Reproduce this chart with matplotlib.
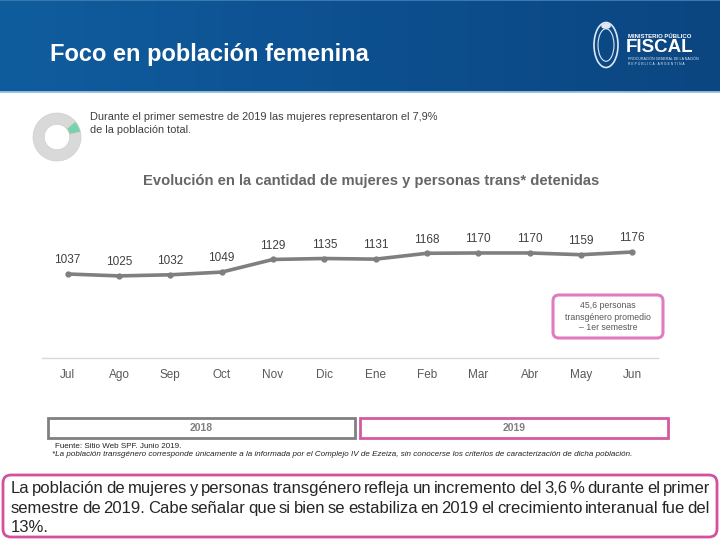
import numpy as np
import matplotlib.pyplot as plt
from matplotlib.patches import FancyBboxPatch, Rectangle, Ellipse
from matplotlib.colors import LinearSegmentedColormap

plt.rcParams['font.family'] = ['Liberation Sans', 'DejaVu Sans']

# data
meses = ['Jul', 'Ago', 'Sep', 'Oct', 'Nov', 'Dic', 'Ene', 'Feb', 'Mar', 'Abr', 'May', 'Jun']
detenidas = [1037, 1025, 1032, 1049, 1129, 1135, 1131, 1168, 1170, 1170, 1159, 1176]
pct_mujeres = 7.9
anios = ['2018', '2019']

W, H = 720, 540
fig = plt.figure(figsize=(W / 100, H / 100), dpi=100)


def fx(x):
    return x / W


def fy(y):
    return 1 - y / H


def px_axes(x0, y0, x1, y1, **kw):
    # axes from pixel box (top-left origin)
    return fig.add_axes([fx(x0), fy(y1), (x1 - x0) / W, (y1 - y0) / H], **kw)


# header band
hdr = px_axes(0, 0, W, 93)
cmap = LinearSegmentedColormap.from_list('hdr', ['#105d9e', '#0d5090', '#0b4681'])
grad = np.linspace(0, 1, 256).reshape(1, -1)
hdr.imshow(grad, aspect='auto', cmap=cmap, extent=[0, 1, 0, 1])
hdr.axhline(0.01, color='#9cc3e0', lw=2)
hdr.axhline(0.995, color='#3a78b0', lw=1.5)
hdr.set_xlim(0, 1)
hdr.set_ylim(0, 1)
hdr.axis('off')

fig.text(fx(50), fy(55), 'Foco en población femenina', color='white', fontsize=17,
         fontweight='bold', va='center', ha='left')

# logo
logo = px_axes(590, 20, 622, 70)
logo.set_xlim(0, 1)
logo.set_ylim(0, 1)
logo.add_patch(Ellipse((0.5, 0.5), 0.75, 0.9, fill=False, ec='#dfe8f2', lw=1.2))
logo.add_patch(Ellipse((0.5, 0.5), 0.5, 0.65, fill=False, ec='#dfe8f2', lw=0.8))
logo.add_patch(Ellipse((0.5, 0.88), 0.3, 0.12, fc='#dfe8f2', ec='none'))
logo.axis('off')
fig.text(fx(628), fy(36), 'MINISTERIO PÚBLICO', color='white', fontsize=4.3,
         fontweight='bold', va='center')
fig.text(fx(626), fy(48), 'FISCAL', color='white', fontsize=13.5,
         fontweight='bold', va='center')
fig.text(fx(628), fy(59), 'PROCURACIÓN GENERAL DE LA NACIÓN', color='#dfe8f2',
         fontsize=2.6, va='center')
fig.text(fx(628), fy(64), 'R E P Ú B L I C A   A R G E N T I N A', color='#dfe8f2',
         fontsize=2.4, va='center')

# donut
dn = px_axes(27, 107, 87, 167)
dn.pie([pct_mujeres, 100 - pct_mujeres], colors=['#78d2ac', '#d9d9d9'],
       startangle=12, counterclock=True, radius=1,
       wedgeprops=dict(width=0.47, edgecolor='#cfcfcf', linewidth=0.5))
dn.set_aspect('equal')
dn.axis('off')

fig.text(fx(90), fy(117), 'Durante el primer semestre de 2019 las mujeres representaron el 7,9%',
         fontsize=7.9, color='#404040', va='center')
fig.text(fx(90), fy(130), 'de la población total.', fontsize=7.9, color='#404040', va='center')

fig.text(fx(371), fy(181), 'Evolución en la cantidad de mujeres y personas trans* detenidas',
         fontsize=10.6, fontweight='bold', color='#666666', ha='center', va='center')

# line chart
ax = px_axes(42, 215, 658, 358)
x = np.arange(len(meses))
ax.plot(x, detenidas, color='#7f7f7f', lw=2.6, marker='o', markersize=3.5,
        solid_capstyle='round')
for xi, v in zip(x, detenidas):
    ax.annotate(str(v), (xi, v), xytext=(0, 5.5), textcoords='offset points',
                ha='center', va='bottom', fontsize=8.5, color='#404040')
ax.set_xlim(-0.5, 11.5)
ax.set_ylim(506, 1410)
ax.set_xticks(x)
ax.set_xticklabels(meses, fontsize=8.5, color='#595959')
ax.tick_params(axis='x', length=0, pad=8)
ax.set_yticks([])
for s in ['top', 'left', 'right']:
    ax.spines[s].set_visible(False)
ax.spines['bottom'].set_color('#d9d9d9')
ax.spines['bottom'].set_linewidth(1)
ax.patch.set_alpha(0)

# overlay for boxes and texts
ov = px_axes(0, 0, W, H)
ov.set_xlim(0, W)
ov.set_ylim(H, 0)
ov.axis('off')
ov.patch.set_alpha(0)

ov.add_patch(FancyBboxPatch((553, 295), 110, 43, boxstyle='round,pad=0,rounding_size=6',
                            fc='white', ec='#e17bbf', lw=2.2))
for i, t in enumerate(['45,6 personas', 'transgénero promedio', '– 1er semestre']):
    ov.text(608, 306 + 11 * i, t, fontsize=6.3, color='#595959', ha='center', va='center')

ov.add_patch(Rectangle((48, 418), 307, 20, fc='white', ec='#808080', lw=2))
ov.add_patch(Rectangle((360, 418), 308, 20, fc='white', ec='#d459a0', lw=2))
ov.text(201, 428, anios[0], fontsize=7.5, color='#7f7f7f', ha='center', va='center',
        fontweight='bold')
ov.text(514, 428, anios[1], fontsize=7.5, color='#7f7f7f', ha='center', va='center',
        fontweight='bold')

ov.text(55, 446, 'Fuente: Sitio Web SPF. Junio 2019.', fontsize=5.8, color='#222222',
        va='center')
ov.text(52, 455, '*La población transgénero corresponde únicamente a la informada por el '
        'Complejo IV de Ezeiza, sin conocerse los criterios de caracterización de dicha población.',
        fontsize=5.8, color='#222222', va='center', style='italic')

ov.add_patch(FancyBboxPatch((3, 475), 714, 62, boxstyle='round,pad=0,rounding_size=8',
                            fc='white', ec='#d64f9f', lw=2))

lineas = ['La población de mujeres y personas transgénero refleja un incremento del 3,6 % durante el primer',
          'semestre de 2019. Cabe señalar que si bien se estabiliza en 2019 el crecimiento interanual fue del',
          '13%.']
x_left, x_right = 11, 710
fs = 12
renderer = fig.canvas.get_renderer()
for i, linea in enumerate(lineas):
    yy = [493, 513, 532][i]
    if i == len(lineas) - 1:
        ov.text(x_left, yy, linea, fontsize=fs, color='#262626', va='baseline')
        continue
    palabras = linea.split(' ')
    objs = [ov.text(0, yy, p, fontsize=fs, color='#262626', va='baseline') for p in palabras]
    anchos = [o.get_window_extent(renderer).width for o in objs]
    gap = (x_right - x_left - sum(anchos)) / (len(palabras) - 1)
    pos = x_left
    for o, w in zip(objs, anchos):
        o.set_x(pos)
        pos += w + gap

fig.savefig('out.png', dpi=100, facecolor='white')
